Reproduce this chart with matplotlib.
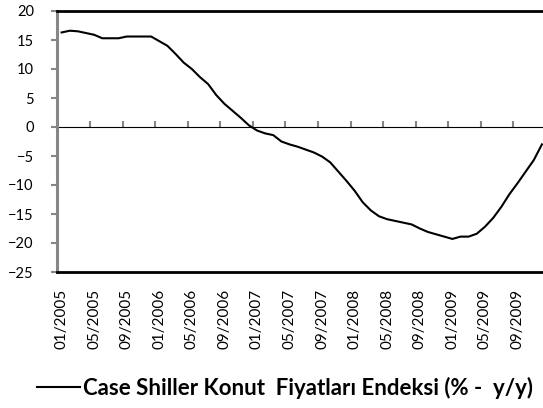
import matplotlib
matplotlib.use("Agg")
import matplotlib.pyplot as plt

# Case Shiller y/y change, monthly 01/2005 - 12/2009
months = ["%02d/%d" % (m, y) for y in range(2005, 2010) for m in range(1, 13)]
values = [16.3, 16.6, 16.5, 16.2, 15.9, 15.3, 15.3, 15.3, 15.6, 15.6, 15.6, 15.6,
          14.8, 14.0, 12.6, 11.1, 10.0, 8.6, 7.4, 5.5, 4.0, 2.8, 1.6, 0.3,
          -0.6, -1.1, -1.4, -2.5, -3.0, -3.4, -3.9, -4.4, -5.1, -6.1, -7.7, -9.3,
          -11.0, -13.0, -14.4, -15.4, -15.9, -16.2, -16.5, -16.8, -17.5, -18.1, -18.5, -18.9,
          -19.3, -18.9, -18.9, -18.4, -17.2, -15.7, -13.8, -11.6, -9.7, -7.7, -5.7, -3.0]
yticks = list(range(-25, 21, 5))
label_step = 4
series_name = "Case Shiller Konut  Fiyatları Endeksi (% -  y/y)"

plt.rcParams['font.family'] = ['Lato', 'DejaVu Sans']
gray = '#868686'

fig = plt.figure(figsize=(5.43, 4.08), dpi=100)
W, H = 543.0, 408.0
ax = fig.add_axes([57.5/W, 1-272/H, (546-57.5)/W, (272-11)/H])

x = list(range(len(values)))
line, = ax.plot(x, values, color='black', lw=1.5, label=series_name)

ax.set_xlim(-0.5, len(values)-0.5)
ax.set_ylim(-25, 20)
ax.set_yticks(yticks)
ax.tick_params(axis='y', direction='out', length=4, width=1.5, color=gray,
               labelsize=10.5, pad=13)

# category labels at the bottom, no tick marks
ax.set_xticks(x[::label_step])
ax.set_xticklabels(months[::label_step], rotation=90, fontsize=11)
ax.tick_params(axis='x', length=0, pad=12)

for s in ['top', 'bottom']:
    ax.spines[s].set_color('black')
    ax.spines[s].set_linewidth(2)
ax.spines['right'].set_visible(False)
ax.spines['left'].set_color(gray)
ax.spines['left'].set_linewidth(2.2)

# category axis crossing at zero, tick marks between categories
sec = ax.secondary_xaxis(25/45)
sec.set_xticks([i - 0.5 for i in x[label_step::label_step]])
sec.set_xticklabels([])
sec.tick_params(direction='out', length=4, width=1.5, color=gray)
sec.spines['bottom'].set_color(gray)
sec.spines['bottom'].set_linewidth(2)

fig.legend(handles=[line], loc='center', bbox_to_anchor=(285/W, 1-388/H),
           frameon=False, handlelength=1.95, handletextpad=0.15,
           prop={'weight': 'bold', 'size': 16})

fig.savefig("out.png", dpi=100)
